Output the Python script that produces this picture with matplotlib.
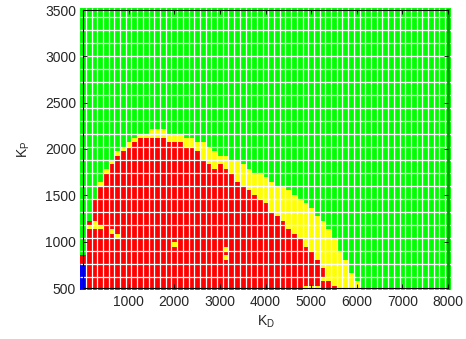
import numpy as np
import matplotlib
matplotlib.use('Agg')
import matplotlib.pyplot as plt
from matplotlib.colors import ListedColormap, BoundaryNorm

plt.rcParams['font.family'] = ['Liberation Sans', 'DejaVu Sans']
plt.rcParams['mathtext.fontset'] = 'custom'
plt.rcParams['mathtext.rm'] = 'Liberation Sans'
plt.rcParams['mathtext.it'] = 'Liberation Sans:italic'

# grid of gains
kd = np.arange(0, 8001, 125)          # 65 columns
kp = np.linspace(500, 3500, 65)       # 65 rows

# top of the red region per KD column (0 = none)
red_top = [860, 1225, 1463, 1600, 1745, 1840, 1933, 1976, 2023, 2066,
           2116, 2116, 2116, 2116, 2116, 2066, 2066, 2066, 2023, 2019,
           1976, 1879, 1836, 1789, 1836, 1789, 1742, 1644, 1597, 1554,
           1500, 1456, 1413, 1319, 1276, 1218, 1131, 1081, 1038, 944,
           900, 799, 713, 572] + [0] * 21
# top of the yellow band per KD column (0 = none)
yellow_top = [0, 0, 0, 1644, 1788, 1882, 1976, 2023, 2066, 2116,
              2160, 2160, 2203, 2203, 2203, 2160, 2160, 2160, 2116, 2116,
              2066, 2066, 2023, 1976, 1929, 1929, 1879, 1879, 1836, 1790,
              1738, 1738, 1695, 1651, 1601, 1601, 1550, 1507, 1456, 1413,
              1370, 1276, 1225, 1131, 1030, 900, 803, 659, 570] + [0] * 16
# blue cells only in first column
blue_top = [760] + [0] * 64

# single cells that break the pattern
odd_yellow_kd = [125, 250, 250, 375, 625, 750, 2000, 3125, 3125, 5250, 4875, 5000, 5125]
odd_yellow_kp = [1156, 1156, 1203, 1156, 1109, 1062, 969, 922, 828, 594, 500, 500, 500]
odd_red_kd = [5500]
odd_red_kp = [500]

# 0 green, 1 yellow, 2 red, 3 blue
Z = np.zeros((len(kp), len(kd)), dtype=int)
for c in range(len(kd)):
    Z[kp < yellow_top[c], c] = 1
    Z[kp < red_top[c], c] = 2
    Z[kp < blue_top[c], c] = 3
for x, y in zip(odd_yellow_kd, odd_yellow_kp):
    Z[np.abs(kp - y).argmin(), np.abs(kd - x).argmin()] = 1
for x, y in zip(odd_red_kd, odd_red_kp):
    Z[np.abs(kp - y).argmin(), np.abs(kd - x).argmin()] = 2

cmap = ListedColormap(['#00ff00', '#ffff00', '#ff0000', '#0000ff'])
norm = BoundaryNorm([-0.5, 0.5, 1.5, 2.5, 3.5], 4)

dkd = kd[1] - kd[0]
dkp = kp[1] - kp[0]
kd_edges = np.append(kd - dkd / 2, kd[-1] + dkd / 2)
kp_edges = np.append(kp - dkp / 2, kp[-1] + dkp / 2)

fig = plt.figure(figsize=(4.66, 3.39), dpi=100)
ax = fig.add_axes([83 / 466, 51 / 339, 365 / 466, 278 / 339])

mesh = ax.pcolormesh(kd_edges, kp_edges, Z, cmap=cmap, norm=norm, clip_on=False)

# white cell borders
ax.vlines(kd_edges[1:-1], kp_edges[0], kp_edges[-1], colors='white', lw=0.9, clip_on=False)
ax.hlines(kp_edges[:-1][::3], kd_edges[0], kd_edges[-1], colors='white', lw=0.9, clip_on=False)

ax.set_xlim(0, 8000)
ax.set_ylim(500, 3500)
ax.set_xticks(range(1000, 8001, 1000))
ax.set_yticks(range(500, 3501, 500))
ax.set_axisbelow(False)
ax.tick_params(direction='in', length=3, width=0.6, top=True, right=True,
               labelsize=10, labelcolor='#262626', pad=5)
for s in ['left', 'top', 'bottom']:
    ax.spines[s].set_linewidth(0.8)
    ax.spines[s].set_zorder(3)
ax.spines['right'].set_color('#00a000')
ax.spines['right'].set_linewidth(2)

ax.set_xlabel(r'K$_\mathrm{D}$', fontsize=10, color='#262626', labelpad=3)
ax.set_ylabel(r'K$_\mathrm{P}$', fontsize=10, color='#262626', labelpad=9)

fig.savefig('out.png', dpi=100)
